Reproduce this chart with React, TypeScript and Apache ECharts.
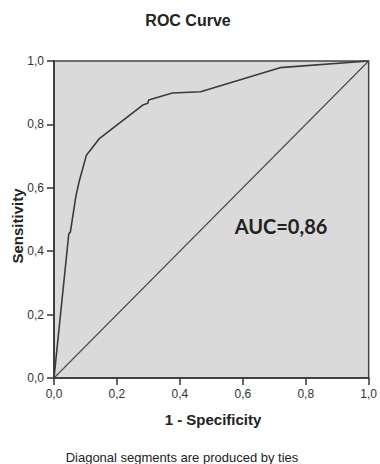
import React, { useEffect, useRef } from "react";
import * as echarts from "echarts";

const fpr = [0, 0.047, 0.052, 0.069, 0.072, 0.08, 0.103, 0.145, 0.282, 0.298, 0.301, 0.376, 0.466, 0.718, 1.0];
const tpr = [0, 0.455, 0.46, 0.57, 0.585, 0.62, 0.703, 0.756, 0.861, 0.867, 0.877, 0.899, 0.903, 0.979, 1.0];
const diagonal = [[0, 0], [1, 1]];
const titleText = "ROC Curve";
const xName = "1 - Specificity";
const yName = "Sensitivity";
const aucText = "AUC=0,86";
const footnote = "Diagonal segments are produced by ties";

const SANS = "Liberation Sans, Arial, sans-serif";

export default function App() {
  const ref = useRef<HTMLDivElement>(null);
  useEffect(() => {
    if (!ref.current) return;
    const chart = echarts.init(ref.current, null, { renderer: "svg" });
    const fmt = (v: number) => v.toFixed(1).replace(".", ",");
    const axisCommon = {
      type: "value",
      min: 0,
      max: 1,
      interval: 0.2,
      splitLine: { show: false },
      axisLine: { show: true, lineStyle: { color: "#333", width: 1.5 } },
      axisTick: { show: true, inside: false, length: 7, lineStyle: { color: "#333", width: 1.5 } },
      axisLabel: { formatter: fmt, color: "#333", fontSize: 12, fontFamily: SANS },
    };
    chart.setOption({
      animation: false,
      backgroundColor: "#ffffff",
      grid: {
        left: 54,
        top: 61,
        right: 9,
        bottom: 86,
        show: true,
        backgroundColor: "#dadada",
        borderColor: "#444",
        borderWidth: 1.5,
      },
      xAxis: { ...axisCommon, axisLabel: { ...axisCommon.axisLabel, margin: 10 } },
      yAxis: { ...axisCommon, axisLabel: { ...axisCommon.axisLabel, margin: 10 } },
      graphic: [
        {
          type: "text",
          x: 188,
          y: 20,
          style: { text: titleText, fontSize: 16, fontWeight: "bold", fill: "#222", fontFamily: SANS, align: "center", verticalAlign: "middle" },
        },
        {
          type: "text",
          x: 213,
          y: 419,
          style: { text: xName, fontSize: 15, fontWeight: "bold", fill: "#222", fontFamily: SANS, align: "center", verticalAlign: "middle" },
        },
        {
          type: "text",
          x: 17,
          y: 226,
          rotation: Math.PI / 2,
          style: { text: yName, fontSize: 15, fontWeight: "bold", fill: "#222", fontFamily: SANS, align: "center", verticalAlign: "middle" },
        },
        {
          type: "text",
          x: 182,
          y: 457,
          style: { text: footnote, fontSize: 13, fill: "#222", fontFamily: SANS, align: "center", verticalAlign: "middle" },
        },
        {
          type: "text",
          x: 281,
          y: 226,
          style: { text: aucText, fontSize: 20, fontWeight: "bold", fill: "#222", fontFamily: "Lato, Open Sans, sans-serif", align: "center", verticalAlign: "middle" },
        },
      ],
      series: [
        {
          type: "line",
          data: fpr.map((x, i) => [x, tpr[i]]),
          showSymbol: false,
          lineStyle: { color: "#3a3a3a", width: 1.6 },
          silent: true,
        },
        {
          type: "line",
          data: diagonal,
          showSymbol: false,
          lineStyle: { color: "#4a4a4a", width: 1.1 },
          silent: true,
        },
      ],
    });
    return () => chart.dispose();
  }, []);
  return <div ref={ref} style={{ width: 380, height: 464, position: "absolute", left: 0, top: 0 }} />;
}
